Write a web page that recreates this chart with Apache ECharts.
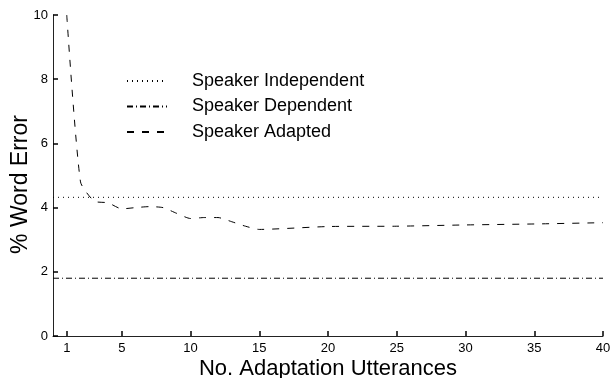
<!DOCTYPE html>
<html>
<head>
<meta charset="utf-8">
<script src="https://cdn.jsdelivr.net/npm/echarts@6/dist/echarts.min.js"></script>
<style>
html,body{margin:0;padding:0;background:#fff;}
#chart{width:612px;height:378px;}
</style>
</head>
<body>
<div id="chart"></div>
<script>
// Data
const xTicks = [1, 5, 10, 15, 20, 25, 30, 35, 40];
const yTicks = [0, 2, 4, 6, 8, 10];
const seriesNames = ['Speaker Independent', 'Speaker Dependent', 'Speaker Adapted'];
const independentX = [0, 40];
const independentY = [4.32, 4.32];
const dependentX = [0, 40];
const dependentY = [1.8, 1.8];
const adaptedX = [1, 2, 3, 4, 5, 6, 7, 8, 9, 10, 11, 12, 13, 14, 15, 20, 25, 30, 35, 40];
const adaptedY = [10, 4.8, 4.2, 4.15, 3.96, 4.0, 4.03, 4.0, 3.82, 3.66, 3.69, 3.69, 3.56, 3.42, 3.32, 3.41, 3.42, 3.46, 3.49, 3.53];

const zip = (xs, ys) => xs.map((x, i) => [x, ys[i]]);
const FONT = 'Liberation Sans, Arial, Helvetica, sans-serif';
const axisColor = '#222';

const chart = echarts.init(document.getElementById('chart'), null, {renderer: 'canvas'});
chart.setOption({
  animation: false,
  backgroundColor: '#fff',
  grid: {left: 53, right: 9, top: 15, bottom: 42, containLabel: false, outerBoundsMode: 'none'},
  legend: {
    orient: 'vertical',
    left: 121,
    top: 67,
    itemWidth: 40,
    itemHeight: 14,
    itemGap: 7.5,
    itemStyle: {opacity: 0},
    data: seriesNames,
    textStyle: {fontFamily: FONT, fontSize: 18, color: '#000', padding: [0, 0, 0, 20]}
  },
  xAxis: {
    type: 'value',
    min: 0, max: 40, interval: 5,
    name: 'No. Adaptation Utterances',
    nameLocation: 'middle',
    nameGap: 22,
    nameMoveOverlap: false,
    nameTextStyle: {fontFamily: FONT, fontSize: 22, color: '#000'},
    axisLine: {show: true, lineStyle: {color: axisColor, width: 1}},
    axisTick: {show: true, inside: true, length: 5, customValues: xTicks, lineStyle: {color: '#000', width: 1.5}},
    axisLabel: {fontFamily: FONT, fontSize: 13, color: '#000', margin: 6, customValues: xTicks},
    splitLine: {show: false}
  },
  yAxis: {
    type: 'value',
    min: 0, max: 10, interval: 2,
    name: '% Word Error',
    nameLocation: 'middle',
    nameGap: 21,
    nameMoveOverlap: false,
    nameTextStyle: {fontFamily: FONT, fontSize: 23, color: '#000', padding: [0, 18, 0, 0]},
    axisLine: {show: true, lineStyle: {color: axisColor, width: 1}},
    axisTick: {show: true, inside: true, length: 5, lineStyle: {color: '#000', width: 1.5}},
    axisLabel: {fontFamily: FONT, fontSize: 13, color: '#000', margin: 5},
    splitLine: {show: false}
  },
  series: [
    {
      name: seriesNames[0], type: 'line', data: zip(independentX, independentY),
      symbol: 'none', lineStyle: {color: '#000', width: 1, type: [1, 4]}, itemStyle: {color: '#000'}
    },
    {
      name: seriesNames[1], type: 'line', data: zip(dependentX, dependentY),
      symbol: 'none', lineStyle: {color: '#000', width: 1, type: [6, 3, 1, 3]}, itemStyle: {color: '#000'}
    },
    {
      name: seriesNames[2], type: 'line', data: zip(adaptedX, adaptedY),
      symbol: 'none', smooth: 0.2, lineStyle: {color: '#000', width: 1, type: [7, 8]}, itemStyle: {color: '#000'}
    }
  ]
});
</script>
</body>
</html>
